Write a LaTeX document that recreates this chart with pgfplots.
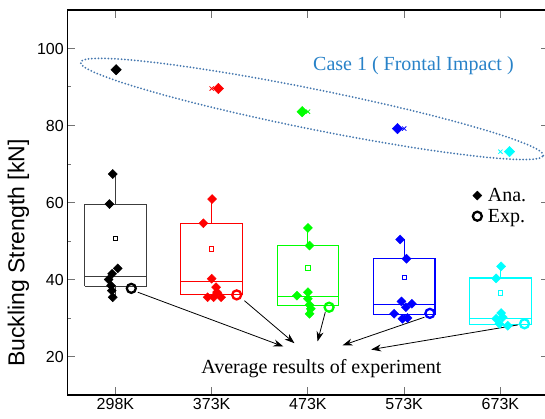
\documentclass[border=0pt]{standalone}
\usepackage{pgfplots}
\pgfplotsset{compat=1.18}
\usetikzlibrary{arrows.meta,shapes.geometric}
\usepackage{fontspec}
\setmainfont{Liberation Serif}
\newfontfamily\arial{Liberation Sans}
\definecolor{ellblue}{RGB}{70,120,175}
\definecolor{txtblue}{RGB}{40,130,200}
\definecolor{boxblack}{RGB}{60,60,60}
\definecolor{cy}{RGB}{0,255,255}
\pgfplotsset{
  ana/.style={only marks, mark=square*, mark size=3.2pt, mark options={rotate=45}, forget plot},
  anabig/.style={only marks, mark=square*, mark size=3.7pt, mark options={rotate=45}, forget plot},
  expm/.style={only marks, mark=o, mark size=4.5pt, mark options={line width=2.3pt}, forget plot},
  meanm/.style={only marks, mark=square, mark size=2.2pt, mark options={line width=0.8pt}, forget plot},
  maxm/.style={only marks, mark=x, mark size=3pt, mark options={line width=0.8pt}, forget plot},
  bx/.style={line width=1.1pt, mark=none, forget plot},
}
\begin{document}
\begin{tikzpicture}
\begin{axis}[
  scale only axis, width=481.25pt, height=385pt,
  xmin=0.5, xmax=5.5, ymin=10, ymax=110,
  xtick={1,...,5}, xticklabels={298K,373K,473K,573K,673K},
  ytick={20,40,...,100}, minor ytick={30,50,70,90},
  tick align=inside, major tick length=8pt, minor tick length=4pt,
  every tick/.style={black!55, line width=1pt},
  axis line style={line width=1.2pt},
  tick label style={font=\arial\fontsize{16}{18}\selectfont},
  /pgf/number format/assume math mode=true,
  ylabel={Buckling Strength [kN]},
  ylabel style={font=\arial\fontsize{23}{26}\selectfont,
    at={(axis description cs:-0.1014,0.369)}, anchor=center},
  legend style={draw=none, fill=none, at={(axis description cs:0.836,0.548)}, anchor=north west,
    font=\fontsize{20}{23}\selectfont, row sep=2pt,
    /tikz/every odd column/.append style={column sep=4pt}},
  legend cell align=left,
]
\coordinate (O) at (rel axis cs:0,0);

% ellipse and labels
\node[draw=ellblue, ellipse, minimum width=472pt, minimum height=40pt, inner sep=0pt,
  rotate=-11.4, line width=2pt, dash pattern=on 0pt off 3.3pt, line cap=round]
  at (axis cs:3.042,84.3) {};
\node[txtblue, font=\fontsize{20}{24}\selectfont] at (axis cs:4.096,95.5) {Case 1 ( Frontal Impact )};
\node[font=\fontsize{20}{24}\selectfont] at (axis cs:3.14,16.9) {Average results of experiment};

% boxes: frame, median, whiskers
\addplot[bx, boxblack] coordinates {(0.68,38.2) (1.32,38.2) (1.32,59.5) (0.68,59.5) (0.68,38.2)};
\addplot[bx, boxblack] coordinates {(0.68,40.8) (1.32,40.8)};
\addplot[bx, boxblack] coordinates {(1,59.5) (1,67.4)};
\addplot[bx, boxblack] coordinates {(1,38.2) (1,35.4)};

\addplot[bx, red] coordinates {(1.68,36.0) (2.32,36.0) (2.32,54.5) (1.68,54.5) (1.68,36.0)};
\addplot[bx, red] coordinates {(1.68,39.5) (2.32,39.5)};
\addplot[bx, red] coordinates {(2,54.5) (2,60.9)};
\addplot[bx, red] coordinates {(2,36.0) (2,35.4)};

\addplot[bx, green] coordinates {(2.68,33.2) (3.32,33.2) (3.32,48.8) (2.68,48.8) (2.68,33.2)};
\addplot[bx, green] coordinates {(2.68,35.6) (3.32,35.6)};
\addplot[bx, green] coordinates {(3,48.8) (3,53.4)};
\addplot[bx, green] coordinates {(3,33.2) (3,31.1)};

\addplot[bx, blue] coordinates {(3.68,30.9) (4.32,30.9) (4.32,45.4) (3.68,45.4) (3.68,30.9)};
\addplot[bx, blue] coordinates {(3.68,33.5) (4.32,33.5)};
\addplot[bx, blue] coordinates {(4,45.4) (4,50.4)};
\addplot[bx, blue] coordinates {(4,30.9) (4,29.8)};

\addplot[bx, cy] coordinates {(4.68,28.2) (5.32,28.2) (5.32,40.4) (4.68,40.4) (4.68,28.2)};
\addplot[bx, cy] coordinates {(4.68,29.8) (5.32,29.8)};
\addplot[bx, cy] coordinates {(5,40.4) (5,43.4)};
\addplot[bx, cy] coordinates {(5,28.2) (5,28.0)};

% means
\addplot[meanm, black] coordinates {(1,50.7)};
\addplot[meanm, red] coordinates {(2,47.9)};
\addplot[meanm, green] coordinates {(3,43.0)};
\addplot[meanm, blue] coordinates {(4,40.6)};
\addplot[meanm, cy] coordinates {(5,36.5)};

% max markers
\addplot[maxm, black] coordinates {(1,94.5)};
\addplot[maxm, red] coordinates {(2,89.6)};
\addplot[maxm, green] coordinates {(3,83.6)};
\addplot[maxm, blue] coordinates {(4,79.2)};
\addplot[maxm, cy] coordinates {(5,73.2)};

% analysis points
\addplot[ana, black, forget plot=false] coordinates {(0.972,67.4) (0.938,59.6) (1.024,42.9) (0.966,41.5)
  (0.930,40.0) (0.955,38.4) (0.962,37.1) (0.972,35.4)};
\addlegendentry{Ana.}
\addplot[ana, red] coordinates {(2.004,60.9) (1.914,54.6) (2.0,40.2) (2.046,38.0)
  (2.056,36.7) (1.958,35.4) (2.021,35.4) (2.098,35.4)};
\addplot[ana, green] coordinates {(3.0,53.4) (3.017,48.8) (3.0,36.7) (2.886,35.8)
  (3.0,35.0) (3.017,33.4) (3.03,32.4) (3.017,31.1)};
\addplot[ana, blue] coordinates {(3.958,50.4) (4.024,45.4) (3.972,34.3) (4.08,33.7)
  (4.018,32.8) (3.896,31.1) (3.982,29.8) (4.034,30.0)};
\addplot[ana, cy] coordinates {(5.007,43.4) (4.955,40.3) (5.007,31.3) (4.955,29.8)
  (5.024,30.2) (4.99,28.5) (5.076,28.0)};

% case 1 points
\addplot[anabig, black] coordinates {(1.007,94.5)};
\addplot[anabig, red] coordinates {(2.07,89.6)};
\addplot[anabig, green] coordinates {(2.94,83.6)};
\addplot[anabig, blue] coordinates {(3.93,79.2)};
\addplot[anabig, cy] coordinates {(5.094,73.2)};

% experiment averages
\addplot[expm, black, forget plot=false] coordinates {(1.165,37.7)};
\addlegendentry{Exp.}
\addplot[expm, red] coordinates {(2.26,36.0)};
\addplot[expm, green] coordinates {(3.22,32.8)};
\addplot[expm, blue] coordinates {(4.267,31.2)};
\addplot[expm, cy] coordinates {(5.25,28.5)};

% arrows
\begin{scope}[line width=0.8pt, -{Stealth[length=10pt,width=7pt]}]
\draw (axis cs:1.232,36.7) -- (axis cs:2.745,22.6);
\draw (axis cs:2.34,34.5) -- (axis cs:2.86,23.45);
\draw (axis cs:3.18,31.5) -- (axis cs:3.10,23.9);
\draw (axis cs:4.21,30.2) -- (axis cs:3.36,22.9);
\draw (axis cs:5.18,28.2) -- (axis cs:3.657,21.8);
\end{scope}
\end{axis}
\pgfresetboundingbox
\path[use as bounding box] ([shift={(-67.3pt,-23pt)}]O) rectangle ++(545pt,418pt);
\end{tikzpicture}
\end{document}
